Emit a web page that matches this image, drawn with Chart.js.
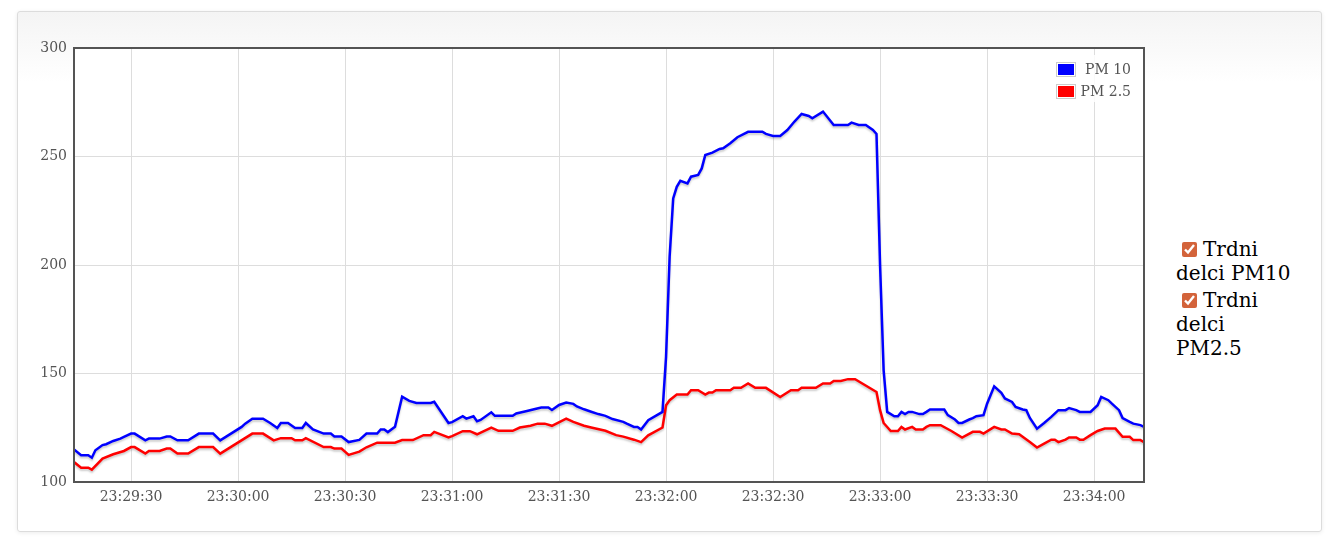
<!DOCTYPE html>
<html>
<head>
<meta charset="utf-8">
<script src="https://cdn.jsdelivr.net/npm/chart.js@4.4.1/dist/chart.umd.min.js"></script>
<style>
  body { margin: 0; background: #fff; width: 1338px; height: 549px; overflow: hidden; position: relative; }
  #panel {
    position: absolute; left: 17px; top: 11px; width: 1303px; height: 519px;
    border: 1px solid #dcdcdc; border-radius: 3px;
    background: linear-gradient(to bottom, #f4f4f4 0px, #ffffff 70px, #ffffff 100%);
    box-shadow: 0 1px 4px rgba(0,0,0,0.08);
  }
  #wrap { position: absolute; left: 17px; top: 11px; width: 1135px; height: 521px; }
  #side {
    position: absolute; left: 1176px; top: 237px; width: 130px;
    font-family: 'DejaVu Serif', serif; font-size: 20px; line-height: 24px; color: #000;
  }
  #side div { margin-bottom: 3px; white-space: nowrap; }
  #side input {
    width: 15px; height: 15px; margin: 0 6px 0 6px; accent-color: #d3633a;
    vertical-align: -1px;
  }
</style>
</head>
<body>
<div id="panel"></div>
<div id="wrap"><canvas id="myChart" width="1135" height="521"></canvas></div>
<div id="side">
  <div><input type="checkbox" checked>Trdni<br>delci PM10</div>
  <div><input type="checkbox" checked>Trdni<br>delci<br>PM2.5</div>
</div>
<script>
// start of the data: 23:29:14, times are seconds after that
const startSec = 23 * 3600 + 29 * 60 + 14;

const pm10Time = [
  0, 2, 4, 5, 6, 8, 9, 11, 13, 14,
  16, 17, 20, 21, 24, 26, 27, 29, 32, 35,
  39, 41, 47, 48, 50, 53, 55, 57, 58, 60,
  62, 64, 65, 67, 70, 72, 73, 75, 77, 80,
  82, 85, 86, 87, 88, 90, 92, 94, 96, 100,
  101, 105, 106, 109, 110, 112, 113, 114, 117, 118,
  123, 124, 127, 129, 131, 133, 134, 136, 138, 140,
  141, 143, 145, 147, 149, 151, 154, 155, 157, 158,
  159, 161, 165, 166, 167, 168, 169, 170, 172, 173,
  175, 176, 177, 179, 181, 182, 184, 186, 189, 193,
  194, 196, 198, 200, 202, 204, 206, 207, 210, 213,
  217, 218, 220, 222, 224, 225, 226, 227, 228, 230,
  231, 232, 233, 234, 235, 237, 238, 239, 240, 244,
  245, 247, 248, 249, 251, 252, 253, 255, 256, 258,
  260, 261, 263, 264, 266, 267, 268, 270, 272, 274,
  276, 278, 279, 281, 282, 285, 287, 288, 290, 291,
  293, 294, 296, 297, 299, 300
];
const pm10 = [
  115, 112.3, 112.3, 111.2, 114.6, 117, 117.4, 118.9, 120, 120.8,
  122.3, 122.3, 119.2, 120, 120, 121, 121, 119.2, 119.2, 122.3,
  122.3, 119.2, 125.4, 126.9, 129.2, 129.2, 127.2, 124.9, 127.2, 127.2,
  124.9, 124.9, 127.2, 124.2, 122.3, 122.3, 121, 121, 118.4, 119.4,
  122.3, 122.3, 124.2, 124.2, 123, 125.4, 139.3, 137.4, 136.4, 136.4,
  137, 127.2, 127.6, 130.3, 129.2, 130.3, 128, 128.6, 132.1, 130.5,
  130.5, 131.6, 132.7, 133.5, 134.3, 134.3, 133.2, 135.5, 136.6, 136,
  134.8, 133.5, 132.4, 131.3, 130.5, 129, 127.7, 126.9, 125.4, 125.4,
  124.2, 128.5, 132.3, 157.7, 203.8, 230.7, 236, 238.8, 237.6, 240.7,
  241.5, 244.5, 250.7, 251.8, 253.5, 253.8, 256.1, 258.9, 261.4, 261.4,
  260.4, 259.5, 259.5, 262.2, 266.1, 269.6, 268.7, 267.6, 270.7, 264.5,
  264.5, 265.6, 264.5, 264.5, 262.2, 260.4, 200, 151.5, 132.3, 130.3,
  130.3, 132.3, 131.3, 132.3, 132.3, 131.3, 131.3, 132.3, 133.4, 133.4,
  130.8, 128.8, 127.2, 127.2, 128.8, 129.4, 130.3, 130.8, 136.1, 144.1,
  141.1, 138.5, 136.9, 134.6, 133.4, 133.1, 129.5, 124.6, 127.2, 130,
  133.1, 133.1, 134.1, 133.1, 132.3, 132.3, 135.4, 139.2, 137.7, 136.1,
  133.1, 129.5, 127.7, 126.9, 126.2, 125.4
];

const pm25Time = [
  0, 2, 4, 5, 8, 11, 14, 16, 17, 20,
  21, 24, 26, 27, 29, 32, 35, 39, 41, 50,
  53, 56, 58, 61, 62, 64, 65, 70, 72, 73,
  75, 77, 80, 82, 85, 90, 92, 95, 98, 100,
  101, 105, 106, 109, 111, 113, 117, 119, 123, 125,
  128, 130, 132, 134, 138, 140, 143, 145, 149, 152,
  154, 157, 159, 161, 165, 166, 167, 169, 172, 173,
  175, 177, 178, 179, 180, 184, 185, 187, 189, 191,
  194, 198, 201, 203, 204, 208, 210, 212, 213, 215,
  217, 219, 225, 226, 227, 229, 231, 232, 233, 235,
  236, 238, 239, 240, 243, 246, 249, 252, 254, 255,
  258, 260, 261, 263, 265, 268, 270, 272, 274, 275,
  276, 278, 279, 281, 282, 283, 285, 287, 289, 292,
  294, 296, 297, 299, 300
];
const pm25 = [
  109.2, 106.6, 106.6, 105.7, 110.8, 112.8, 114.3, 116.1, 116.1, 113.1,
  114.3, 114.3, 115.4, 115.4, 113.1, 113.1, 116.1, 116.1, 113.1, 122.3,
  122.3, 119.2, 120.2, 120.2, 119.2, 119.2, 120.2, 116.1, 116.1, 115.4,
  115.4, 112.5, 114, 116, 118.1, 118.1, 119.3, 119.3, 121.6, 121.6,
  123.1, 120.5, 121.1, 123.4, 123.4, 122, 125.1, 123.6, 123.6, 125.1,
  125.9, 126.9, 126.9, 125.9, 129.2, 127.7, 125.9, 125.1, 123.6, 121.6,
  120.9, 119.5, 118.4, 121.5, 125.1, 135.4, 137.7, 140.3, 140.3, 142.3,
  142.3, 140.3, 141.2, 141.2, 142.3, 142.3, 143.4, 143.4, 145.4, 143.4,
  143.4, 139.2, 142.3, 142.3, 143.4, 143.4, 145.4, 145.4, 146.6, 146.6,
  147.4, 147.4, 141.5, 133.1, 127.2, 123.5, 123.5, 125.4, 124.2, 125.4,
  124.2, 124.2, 125.4, 126.2, 126.2, 123.5, 120.5, 123.1, 123.1, 122.3,
  125.4, 124.2, 124.2, 122.3, 122, 118.4, 115.9, 117.7, 119.5, 119.5,
  118.4, 119.5, 120.5, 120.5, 119.5, 119.5, 121.6, 123.5, 124.6, 124.6,
  120.8, 120.8, 119.3, 119.3, 118.4
];

const seriesLabels = ['PM 10', 'PM 2.5'];
const seriesColors = ['#0000ff', '#ff0000'];

function fmtTime(t) {
  const s = Math.round(startSec + t);
  const pad = n => String(n).padStart(2, '0');
  return pad(Math.floor(s / 3600) % 24) + ':' + pad(Math.floor(s / 60) % 60) + ':' + pad(s % 60);
}

Chart.defaults.font.family = "'DejaVu Serif', serif";
Chart.defaults.font.size = 14;
Chart.defaults.color = '#545454';

// white plot background + line shadows + frame + legend inside the plot
const plotStuff = {
  id: 'plotStuff',
  beforeDraw(chart) {
    const a = chart.chartArea, ctx = chart.ctx;
    ctx.save();
    ctx.fillStyle = '#ffffff';
    ctx.fillRect(a.left, a.top, a.right - a.left, a.bottom - a.top);
    ctx.restore();
  },
  beforeDatasetsDraw(chart) {
    const ctx = chart.ctx;
    ctx.save();
    ctx.shadowColor = 'rgba(0,0,0,0.2)';
    ctx.shadowOffsetY = 2;
    ctx.shadowBlur = 2;
  },
  afterDatasetsDraw(chart) {
    chart.ctx.restore();
  },
  afterDraw(chart) {
    const a = chart.chartArea, ctx = chart.ctx;
    ctx.save();
    ctx.strokeStyle = '#545454';
    ctx.lineWidth = 2;
    ctx.strokeRect(a.left, a.top, a.right - a.left, a.bottom - a.top);

    // legend box, top right
    ctx.fillStyle = 'rgba(255,255,255,0.85)';
    ctx.fillRect(a.right - 94, a.top + 7, 87, 47);
    chart.data.datasets.forEach((ds, i) => {
      const y = a.top + 14 + i * 22;
      ctx.fillStyle = '#fff';
      ctx.fillRect(a.right - 88, y, 20, 15);
      ctx.strokeStyle = '#cccccc';
      ctx.lineWidth = 1;
      ctx.strokeRect(a.right - 87.5, y + 0.5, 19, 14);
      ctx.fillStyle = ds.borderColor;
      ctx.fillRect(a.right - 86, y + 2, 16, 11);
      ctx.fillStyle = '#545454';
      ctx.font = "14px 'DejaVu Serif', serif";
      ctx.textAlign = 'right';
      ctx.textBaseline = 'middle';
      ctx.fillText(ds.label, a.right - 13, y + 8);
    });
    ctx.restore();
  }
};

const data = {
  datasets: [
    {
      label: seriesLabels[0],
      data: pm10Time.map((t, i) => ({ x: t, y: pm10[i] })),
      borderColor: seriesColors[0],
      backgroundColor: seriesColors[0],
      borderWidth: 2.5,
      pointRadius: 0,
      tension: 0
    },
    {
      label: seriesLabels[1],
      data: pm25Time.map((t, i) => ({ x: t, y: pm25[i] })),
      borderColor: seriesColors[1],
      backgroundColor: seriesColors[1],
      borderWidth: 2.5,
      pointRadius: 0,
      tension: 0
    }
  ]
};

const config = {
  type: 'line',
  data: data,
  options: {
    responsive: false,
    animation: false,
    layout: { padding: { top: 37, right: 8, left: 0, bottom: 0 } },
    plugins: {
      legend: { display: false },
      tooltip: { enabled: false }
    },
    scales: {
      x: {
        type: 'linear',
        min: 0,
        max: 300,
        afterBuildTicks(scale) {
          // a tick on every full half minute
          const ticks = [];
          let t = Math.ceil((startSec + scale.min) / 30) * 30 - startSec;
          for (; t <= scale.max; t += 30) ticks.push({ value: t });
          scale.ticks = ticks;
        },
        afterFit(scale) { scale.height = 50; },
        ticks: {
          padding: 7,
          maxRotation: 0,
          autoSkip: false,
          callback: v => fmtTime(v)
        },
        grid: { color: '#dddddd', drawTicks: false },
        border: { display: false }
      },
      y: {
        min: 100,
        max: 300,
        afterFit(scale) { scale.width = 57; },
        ticks: { stepSize: 50, padding: 7 },
        grid: { color: '#dddddd', drawTicks: false },
        border: { display: false }
      }
    }
  },
  plugins: [plotStuff]
};

const myChart = new Chart(document.getElementById('myChart'), config);
</script>
</body>
</html>
